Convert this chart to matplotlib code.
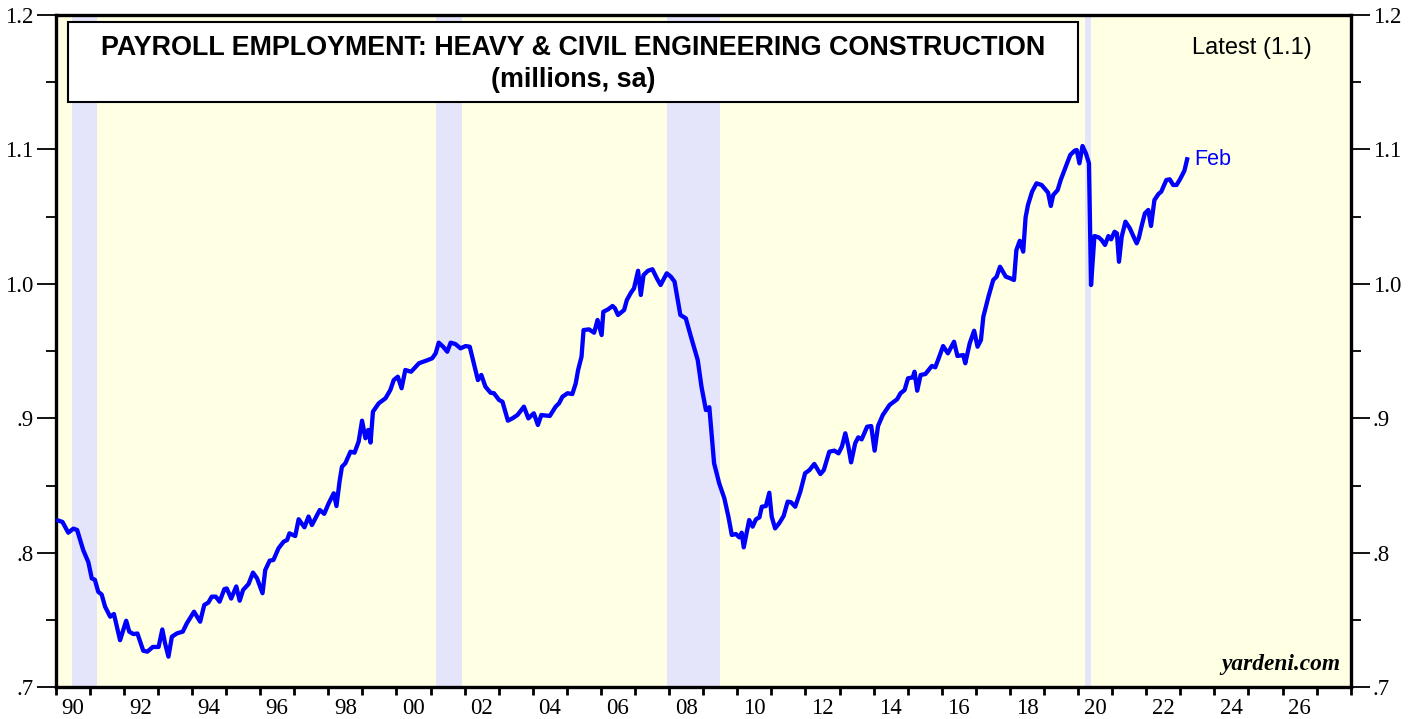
import matplotlib
matplotlib.use("Agg")
import matplotlib.pyplot as plt
from matplotlib.patches import Rectangle
import numpy as np

# data (decimal year, millions)
dates = [1990.08, 1990.2, 1990.37, 1990.52, 1990.63, 1990.81, 1990.96, 1991.06, 1991.15, 1991.25,
         1991.35, 1991.45, 1991.6, 1991.71, 1991.89, 1992.07, 1992.16, 1992.28, 1992.4, 1992.57,
         1992.69, 1992.85, 1993.02, 1993.13, 1993.21, 1993.31, 1993.41, 1993.56, 1993.73, 1993.85,
         1994.06, 1994.24, 1994.36, 1994.48, 1994.58, 1994.7, 1994.81, 1994.95, 1995.02, 1995.15,
         1995.3, 1995.4, 1995.5, 1995.66, 1995.79, 1995.91, 1996.07, 1996.15, 1996.28, 1996.39,
         1996.54, 1996.69, 1996.79, 1996.86, 1997.03, 1997.13, 1997.3, 1997.42, 1997.52, 1997.75,
         1997.88, 1998.01, 1998.16, 1998.24, 1998.33, 1998.4, 1998.5, 1998.65, 1998.77, 1998.89,
         1998.99, 1999.09, 1999.17, 1999.24, 1999.31, 1999.48, 1999.68, 1999.82, 1999.92, 2000.04,
         2000.15, 2000.26, 2000.43, 2000.66, 2000.88, 2001.05, 2001.15, 2001.24, 2001.37, 2001.49,
         2001.59, 2001.73, 2001.88, 2002.03, 2002.15, 2002.27, 2002.39, 2002.49, 2002.61, 2002.76,
         2002.86, 2003.01, 2003.11, 2003.27, 2003.4, 2003.55, 2003.74, 2003.87, 2004.03, 2004.15,
         2004.25, 2004.5, 2004.67, 2004.77, 2004.87, 2005.02, 2005.16, 2005.26, 2005.33, 2005.43,
         2005.49, 2005.65, 2005.8, 2005.9, 2006.02, 2006.07, 2006.21, 2006.34, 2006.41, 2006.5,
         2006.68, 2006.76, 2006.88, 2006.97, 2007.09, 2007.17, 2007.25, 2007.38, 2007.51, 2007.64,
         2007.75, 2007.93, 2008.05, 2008.16, 2008.33, 2008.49, 2008.64, 2008.84, 2008.95, 2009.08,
         2009.18, 2009.32, 2009.47, 2009.62, 2009.74, 2009.84, 2009.96, 2010.06, 2010.13, 2010.19,
         2010.35, 2010.45, 2010.55, 2010.65, 2010.72, 2010.84, 2010.94, 2011.01, 2011.11, 2011.23,
         2011.36, 2011.48, 2011.58, 2011.7, 2011.85, 2011.99, 2012.12, 2012.26, 2012.44, 2012.54,
         2012.7, 2012.85, 2012.97, 2013.07, 2013.17, 2013.26, 2013.34, 2013.46, 2013.55, 2013.65,
         2013.81, 2013.93, 2014.03, 2014.13, 2014.27, 2014.47, 2014.69, 2014.79, 2014.91, 2015.01,
         2015.15, 2015.2, 2015.28, 2015.38, 2015.52, 2015.71, 2015.81, 2015.91, 2016.04, 2016.18,
         2016.36, 2016.46, 2016.63, 2016.69, 2016.82, 2016.95, 2017.05, 2017.15, 2017.22, 2017.37,
         2017.51, 2017.61, 2017.71, 2017.88, 2018.01, 2018.12, 2018.19, 2018.29, 2018.39, 2018.46,
         2018.53, 2018.65, 2018.78, 2018.93, 2019.12, 2019.2, 2019.27, 2019.4, 2019.49, 2019.61,
         2019.77, 2019.9, 2019.96, 2020.04, 2020.13, 2020.23, 2020.32, 2020.38, 2020.48, 2020.6,
         2020.69, 2020.79, 2020.89, 2020.97, 2021.07, 2021.14, 2021.2, 2021.28, 2021.39, 2021.52,
         2021.62, 2021.72, 2021.78, 2021.86, 2021.96, 2022.06, 2022.14, 2022.24, 2022.36, 2022.44,
         2022.59, 2022.69, 2022.79, 2022.89, 2022.99, 2023.12, 2023.2]
employment = [0.824, 0.823, 0.815, 0.818, 0.817, 0.802, 0.793, 0.781, 0.780, 0.771,
              0.769, 0.760, 0.7525, 0.7545, 0.735, 0.7495, 0.7414, 0.7396, 0.740, 0.7272,
              0.7265, 0.730, 0.730, 0.743, 0.7327, 0.7228, 0.7376, 0.7401, 0.7414, 0.7476,
              0.7562, 0.7488, 0.7612, 0.763, 0.7674, 0.7674, 0.7637, 0.773, 0.7735, 0.766,
              0.775, 0.7644, 0.7724, 0.7768, 0.7853, 0.781, 0.770, 0.7872, 0.7942, 0.7947,
              0.8034, 0.8083, 0.8095, 0.8145, 0.8125, 0.825, 0.819, 0.827, 0.8207, 0.8319,
              0.829, 0.8368, 0.8443, 0.8348, 0.853, 0.864, 0.8666, 0.8752, 0.8745, 0.8827,
              0.8983, 0.8852, 0.8914, 0.882, 0.905, 0.9112, 0.915, 0.9211, 0.9285, 0.931,
              0.9224, 0.936, 0.9347, 0.941, 0.943, 0.9447, 0.9484, 0.9563, 0.9533, 0.9496,
              0.9563, 0.9553, 0.9521, 0.9538, 0.9533, 0.941, 0.9285, 0.9323, 0.9236, 0.9191,
              0.9187, 0.9137, 0.9124, 0.8983, 0.900, 0.9025, 0.9087, 0.900, 0.9038, 0.8951,
              0.9025, 0.9018, 0.9087, 0.9112, 0.9161, 0.9187, 0.9181, 0.926, 0.936, 0.9459,
              0.9657, 0.9662, 0.9637, 0.9732, 0.962, 0.9793, 0.9811, 0.9836, 0.9819, 0.9769,
              0.9806, 0.988, 0.9935, 0.9967, 1.0098, 0.9918, 1.0066, 1.0098, 1.0109, 1.0042,
              0.9992, 1.0079, 1.0054, 1.0017, 0.9769, 0.9744, 0.9608, 0.9434, 0.9236, 0.9062,
              0.9083, 0.8666, 0.8517, 0.8406, 0.8269, 0.8133, 0.814, 0.8115, 0.815, 0.8041,
              0.8244, 0.8195, 0.825, 0.8264, 0.8343, 0.8348, 0.8447, 0.8269, 0.8182, 0.822,
              0.8274, 0.8381, 0.8376, 0.8343, 0.8455, 0.8592, 0.8616, 0.8661, 0.8586, 0.8616,
              0.8752, 0.876, 0.874, 0.879, 0.8889, 0.879, 0.8673, 0.8815, 0.8859, 0.8844,
              0.8938, 0.8943, 0.876, 0.8943, 0.9025, 0.910, 0.9142, 0.9187, 0.9211, 0.9298,
              0.9305, 0.9347, 0.9206, 0.9323, 0.933, 0.939, 0.938, 0.9447, 0.9538, 0.9484,
              0.957, 0.9464, 0.9471, 0.941, 0.9558, 0.9652, 0.9533, 0.9583, 0.9756, 0.9905,
              1.0029, 1.0054, 1.0128, 1.0054, 1.0042, 1.0029, 1.0252, 1.0321, 1.024, 1.0495,
              1.0587, 1.0686, 1.0748, 1.0736, 1.0679, 1.058, 1.0661, 1.0698, 1.0773, 1.0852,
              1.0959, 1.0991, 1.0996, 1.0897, 1.1026, 1.0971, 1.0897, 0.9992, 1.0356, 1.0347,
              1.0327, 1.029, 1.0356, 1.0332, 1.0388, 1.0376, 1.0165, 1.0351, 1.0463, 1.0413,
              1.0356, 1.0302, 1.0339, 1.0426, 1.0525, 1.055, 1.0431, 1.0624, 1.0669, 1.0686,
              1.0773, 1.0778, 1.0736, 1.0736, 1.0778, 1.0842, 1.0927]

recession_start = [1990.48, 2001.17, 2007.93, 2020.21]
recession_end = [1991.21, 2001.91, 2009.49, 2020.39]

year_labels = ['90', '92', '94', '96', '98', '00', '02', '04', '06', '08',
               '10', '12', '14', '16', '18', '20', '22', '24', '26']
y_ticks = [0.7, 0.8, 0.9, 1.0, 1.1, 1.2]
y_labels = ['.7', '.8', '.9', '1.0', '1.1', '1.2']

serif = 'Liberation Serif'
sans = 'Liberation Sans'

fig = plt.figure(figsize=(14.16, 7.19), dpi=100)
ax = fig.add_axes([0.0393, 0.0441, 0.9146, 0.935])
ax.set_facecolor('#FFFFE4')

for s, e in zip(recession_start, recession_end):
    ax.axvspan(s, e, color='#E4E4FA', lw=0, zorder=1)

ax.plot(dates, employment, color='#0000FF', lw=3.1, zorder=3, solid_joinstyle='round')

ax.set_xlim(1990, 2028)
ax.set_ylim(0.7, 1.2)

# x axis: year ticks, labels centred in the year
ax.set_xticks(np.arange(1990, 2029, 1))
ax.set_xticklabels([])
ax.set_xticks(np.arange(1990.5, 2027, 2), minor=True)
ax.set_xticklabels(year_labels, minor=True, fontfamily=serif, fontsize=16.5)
ax.tick_params(axis='x', which='major', direction='out', length=6, width=2, color='black')
ax.tick_params(axis='x', which='minor', length=0, pad=8)

# y axis both sides
ax.set_yticks(y_ticks)
ax.set_yticklabels(y_labels, fontfamily=serif, fontsize=16.5)
ax.set_yticks(np.arange(0.75, 1.2, 0.1), minor=True)
ax.tick_params(axis='y', which='major', direction='out', length=14, width=1.3,
               left=True, right=True, labelleft=True, labelright=True, pad=2)
ax.tick_params(axis='y', which='minor', direction='out', length=7, width=1.3,
               left=True, right=True)

for sp in ax.spines.values():
    sp.set_linewidth(2.4)
    sp.set_color('black')

# title box
box = Rectangle((0.0095, 0.8706), 0.78, 0.119, transform=ax.transAxes,
                facecolor='white', edgecolor='black', lw=1.5, zorder=4)
ax.add_patch(box)
ax.text(0.3995, 0.951, 'PAYROLL EMPLOYMENT: HEAVY & CIVIL ENGINEERING CONSTRUCTION',
        transform=ax.transAxes, ha='center', va='center', fontsize=19.4,
        fontweight='bold', family=sans, zorder=5)
ax.text(0.3995, 0.904, '(millions, sa)', transform=ax.transAxes, ha='center',
        va='center', fontsize=19.4, fontweight='bold', family=sans, zorder=5)

ax.text(0.924, 0.951, 'Latest (1.1)', transform=ax.transAxes, ha='center',
        va='center', fontsize=17, family=sans, zorder=5)
ax.text(dates[-1] + 0.2, employment[-1], 'Feb', color='#0000FF', ha='left',
        va='center', fontsize=15.5, family=sans, zorder=5)
ax.text(0.992, 0.018, 'yardeni.com', transform=ax.transAxes, ha='right',
        va='bottom', fontsize=16.8, fontweight='bold', fontstyle='italic',
        family=serif, zorder=5)

fig.savefig('out.png', dpi=100)
